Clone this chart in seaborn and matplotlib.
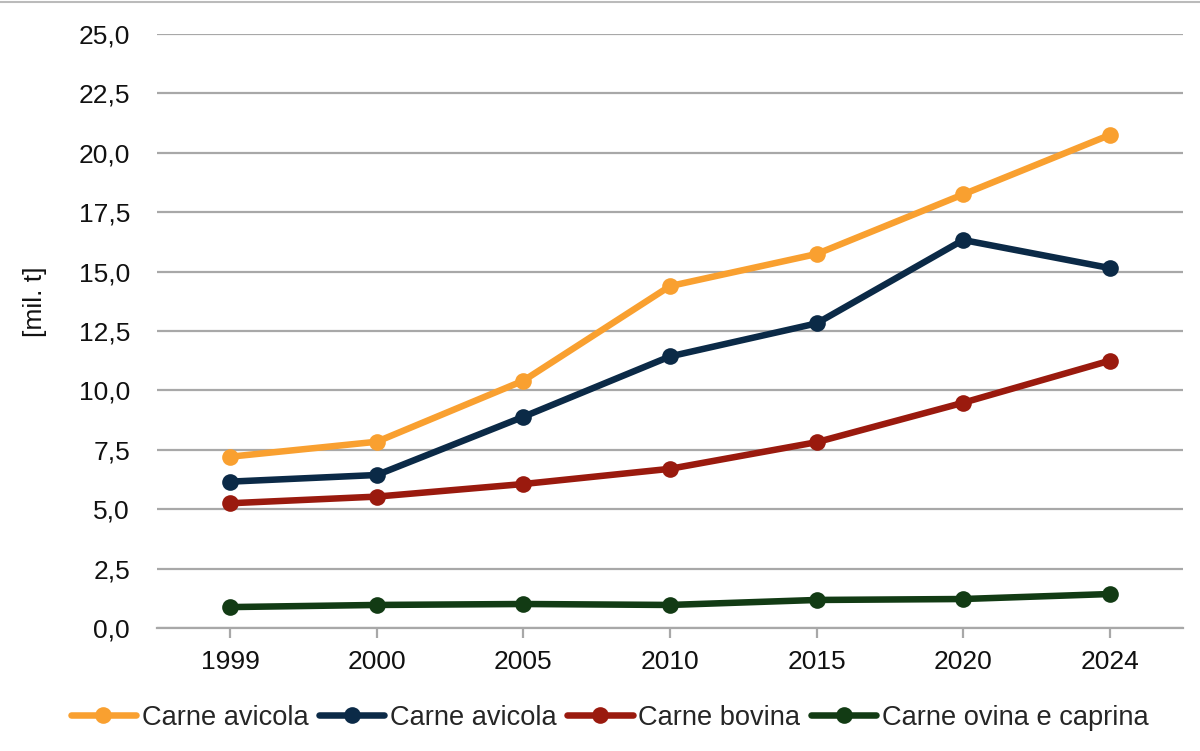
import seaborn as sns
import matplotlib.pyplot as plt
import matplotlib.ticker as mticker
from matplotlib.lines import Line2D

# data
years = ['1999', '2000', '2005', '2010', '2015', '2020', '2024']
avicola_1 = [7.21, 7.84, 10.41, 14.39, 15.74, 18.25, 20.75]
avicola_2 = [6.16, 6.44, 8.89, 11.43, 12.82, 16.33, 15.15]
bovina = [5.25, 5.53, 6.06, 6.70, 7.82, 9.48, 11.25]
ovina_caprina = [0.88, 0.97, 1.01, 0.97, 1.18, 1.22, 1.43]

series_names = ['Carne avicola', 'Carne avicola', 'Carne bovina', 'Carne ovina e caprina']
series_values = [avicola_1, avicola_2, bovina, ovina_caprina]
colors = ['#F9A030', '#0B2A47', '#9A1A0E', '#123B14']

sns.set_style('white')
plt.rcParams['font.family'] = ['Liberation Sans', 'DejaVu Sans']
FS = 19

fig = plt.figure(figsize=(12, 7.51), dpi=100)
ax = fig.add_axes([157 / 1200, 1 - 628 / 751, (1183 - 157) / 1200, (628 - 34) / 751])

pos = list(range(len(years)))
for name, vals, col in zip(series_names, series_values, colors):
    sns.lineplot(x=pos, y=vals, ax=ax, color=col, linewidth=4.7,
                 marker='o', markersize=12, markeredgewidth=0, legend=False)

ax.set_xlim(-0.5, len(years) - 0.5)
ax.set_ylim(0, 25)
ax.yaxis.set_major_locator(mticker.MultipleLocator(2.5))
ax.yaxis.set_major_formatter(mticker.FuncFormatter(lambda v, p: f'{v:.1f}'.replace('.', ',')))
ax.set_xticks(pos)
ax.set_xticklabels(years)

ax.grid(axis='y', color='#A8A8A8', linewidth=1.6)
ax.set_axisbelow(True)
for s in ['left', 'top', 'right']:
    ax.spines[s].set_visible(False)
ax.spines['bottom'].set_color('#A8A8A8')
ax.spines['bottom'].set_linewidth(1.6)
ax.tick_params(axis='x', bottom=True, length=7, width=1.6, color='#A8A8A8',
               labelsize=FS, pad=9, labelcolor='#111111')
ax.tick_params(axis='y', left=False, labelsize=FS, pad=16, labelcolor='#111111')
ax.set_ylabel('[mil. t]', fontsize=FS, color='#111111')
ax.yaxis.set_label_coords(-0.107, 0.55)

handles = [Line2D([0], [0], color=c, linewidth=4.7, marker='o', markersize=12,
                  markeredgewidth=0) for c in colors]
fig.legend(handles, series_names, loc='center', bbox_to_anchor=(0.508, 1 - 718 / 751),
           ncol=4, frameon=False, fontsize=19.6, handlelength=2.4, handletextpad=0.2,
           columnspacing=0.4)

# thin border line at the top of the image
fig.add_artist(Line2D([0, 1], [0.998, 0.998], color='#BBBBBB', linewidth=1.5))

fig.savefig('out.png', dpi=100)
